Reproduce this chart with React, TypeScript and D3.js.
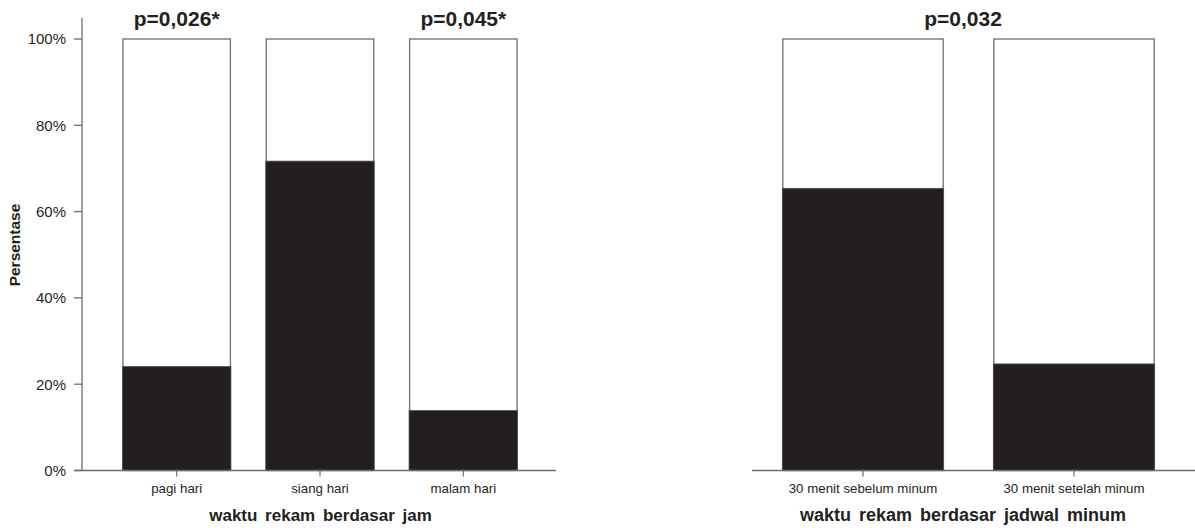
import React from "react";
import * as d3 from "d3";

// persentase "ya" (bagian gelap) per kategori
const jamCategories = ["pagi hari", "siang hari", "malam hari"];
const jamValues = [24.1, 71.7, 13.9];
const jamPLabels = ["p=0,026*", "", "p=0,045*"];

const jadwalCategories = ["30 menit sebelum minum", "30 menit setelah minum"];
const jadwalValues = [65.4, 24.7];
const jadwalPLabel = "p=0,032";

const yTicks = [0, 20, 40, 60, 80, 100];

const W = 1195;
const H = 528;
const dark = "#231f20";
const edge = "#6d6d6d";
const font = "'Liberation Sans', Arial, Helvetica, sans-serif";

export default function App() {
  const y = d3.scaleLinear().domain([0, 100]).range([470.5, 39]);

  const xJam = d3
    .scaleBand<string>()
    .domain(jamCategories)
    .range([105, 535])
    .paddingInner(0.25)
    .paddingOuter(0.125);

  const xJadwal = d3
    .scaleBand<string>()
    .domain(jadwalCategories)
    .range([757.5, 1179.5])
    .paddingInner(0.24)
    .paddingOuter(0.12);

  const bars = (
    x: d3.ScaleBand<string>,
    cats: string[],
    vals: number[]
  ) =>
    cats.map((c, i) => (
      <g key={c}>
        <rect
          x={x(c)}
          y={y(100)}
          width={x.bandwidth()}
          height={y(0) - y(100)}
          fill="#fff"
          stroke={edge}
          strokeWidth={1.3}
        />
        <rect
          x={x(c)! - 0.5}
          y={y(vals[i])}
          width={x.bandwidth() + 1}
          height={y(0) - y(vals[i])}
          fill={dark}
          stroke="#555"
          strokeWidth={0.8}
        />
      </g>
    ));

  const catLabels = (x: d3.ScaleBand<string>, cats: string[], base: number) =>
    cats.map((c) => {
      const cx = x(c)! + x.bandwidth() / 2;
      return (
        <g key={c}>
          <line x1={cx} x2={cx} y1={base} y2={base + 6} stroke={edge} strokeWidth={1.2} />
          <text x={cx} y={base + 22} textAnchor="middle" fontSize={13.3} fill={dark}>
            {c}
          </text>
        </g>
      );
    });

  return (
    <svg width={W} height={H} style={{ position: "absolute", left: 0, top: 0 }} fontFamily={font}>
      <rect width={W} height={H} fill="#fff" />

      {/* panel kiri */}
      <line x1={82} x2={82} y1={18} y2={y(0)} stroke={edge} strokeWidth={1.3} />
      {yTicks.map((t) => (
        <g key={t}>
          <line x1={74} x2={82} y1={y(t)} y2={y(t)} stroke={edge} strokeWidth={1.3} />
          <text x={66} y={y(t)} dy="0.36em" textAnchor="end" fontSize={15} fill={dark}>
            {t}%
          </text>
        </g>
      ))}
      <text
        transform="translate(20,245) rotate(-90)"
        textAnchor="middle"
        fontSize={15.5}
        fontWeight="bold"
        fill={dark}
      >
        Persentase
      </text>
      {bars(xJam, jamCategories, jamValues)}
      <line x1={74} x2={556} y1={y(0)} y2={y(0)} stroke={edge} strokeWidth={1.3} />
      {catLabels(xJam, jamCategories, y(0))}
      {jamCategories.map((c, i) =>
        jamPLabels[i] ? (
          <text
            key={c}
            x={xJam(c)! + xJam.bandwidth() / 2}
            y={26}
            textAnchor="middle"
            fontSize={21}
            fontWeight="bold"
            fill={dark}
          >
            {jamPLabels[i]}
          </text>
        ) : null
      )}
      <text x={320.5} y={521} textAnchor="middle" fontSize={17} fontWeight="bold" fill={dark} wordSpacing={3}>
        waktu rekam berdasar jam
      </text>

      {/* panel kanan */}
      {bars(xJadwal, jadwalCategories, jadwalValues)}
      <line x1={752} x2={1195} y1={y(0)} y2={y(0)} stroke={edge} strokeWidth={1.3} />
      {catLabels(xJadwal, jadwalCategories, y(0))}
      <text x={963} y={26} textAnchor="middle" fontSize={21} fontWeight="bold" fill={dark}>
        {jadwalPLabel}
      </text>
      <text x={963} y={521} textAnchor="middle" fontSize={18} fontWeight="bold" fill={dark} wordSpacing={3}>
        waktu rekam berdasar jadwal minum
      </text>
    </svg>
  );
}
